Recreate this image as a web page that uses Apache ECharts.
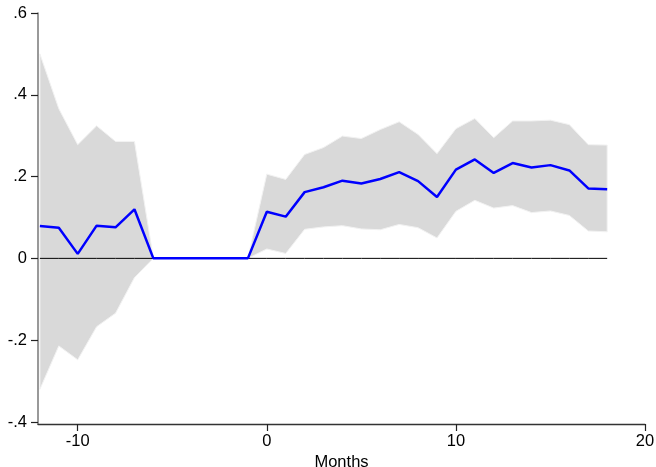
<!DOCTYPE html>
<html>
<head>
<meta charset="utf-8">
<script src="https://cdn.jsdelivr.net/npm/echarts@6/dist/echarts.min.js"></script>
<style>
  html, body { margin: 0; padding: 0; background: #fff; }
  #chart { width: 656px; height: 467px; }
</style>
</head>
<body>
<div id="chart"></div>
<script>
// Event-time months, -12 .. 18
const months = [-12,-11,-10,-9,-8,-7,-6,-5,-4,-3,-2,-1,0,1,2,3,4,5,6,7,8,9,10,11,12,13,14,15,16,17,18];

// Point estimates
const estimate = [0.079,0.075,0.011,0.080,0.076,0.120,0,0,0,0,0,0,
  0.114,0.102,0.162,0.174,0.190,0.183,0.194,0.211,0.189,0.150,0.217,0.242,0.209,0.233,0.222,0.228,0.215,0.171,0.169];

// Confidence interval bounds
const upperCI = [0.500,0.366,0.278,0.324,0.286,0.286,0,0,0,0,0,0,
  0.206,0.193,0.254,0.271,0.299,0.293,0.315,0.334,0.303,0.256,0.317,0.342,0.295,0.336,0.336,0.338,0.327,0.278,0.277];
const lowerCI = [-0.320,-0.214,-0.248,-0.167,-0.134,-0.047,0,0,0,0,0,0,
  0.023,0.012,0.071,0.077,0.080,0.072,0.070,0.083,0.075,0.050,0.115,0.142,0.123,0.129,0.112,0.116,0.105,0.067,0.065];

// Axis tick values
const xTicks = [-10, 0, 10, 20];
const yTicks = [-0.4, -0.2, 0, 0.2, 0.4, 0.6];

const pairs = arr => months.map((m, i) => [m, arr[i]]);
const bandData = months.map((m, i) => [m, lowerCI[i], upperCI[i]]);

const font = 'Liberation Sans, Arial, sans-serif';

// The confidence band is drawn as one closed polygon: upper bound left to right, then lower bound back
function renderBand(params, api) {
  if (params.dataIndex !== 0) return null;
  const top = [], bottom = [];
  for (let i = 0; i < bandData.length; i++) {
    top.push(api.coord([bandData[i][0], bandData[i][2]]));
    bottom.push(api.coord([bandData[i][0], bandData[i][1]]));
  }
  const points = top.concat(bottom.reverse());
  return {
    type: 'polygon',
    shape: { points: points },
    style: { fill: '#d9d9d9', stroke: '#f2f2f2', lineWidth: 1 }
  };
}

const chart = echarts.init(document.getElementById('chart'), null, { renderer: 'canvas' });
chart.setOption({
  animation: false,
  backgroundColor: '#ffffff',
  grid: { left: 38, right: 11, top: 13, bottom: 43, containLabel: false, outerBoundsMode: 'none' },
  xAxis: {
    type: 'value',
    min: -12.1,
    max: 20,
    name: 'Months',
    nameLocation: 'middle',
    nameGap: 30,
    nameMoveOverlap: false,
    nameTextStyle: { fontFamily: font, fontSize: 16.5, color: '#000' },
    splitLine: { show: false },
    axisLine: { show: true, onZero: false, lineStyle: { color: '#333', width: 1.3 } },
    axisTick: { show: true, length: 7, customValues: xTicks, lineStyle: { color: '#222', width: 1.2 } },
    axisLabel: { customValues: xTicks, fontFamily: font, fontSize: 16.5, color: '#000', margin: 9 }
  },
  yAxis: {
    type: 'value',
    min: -0.405,
    max: 0.6,
    splitLine: { show: false },
    axisLine: { show: true, onZero: false, lineStyle: { color: '#777', width: 1.5 } },
    axisTick: { show: true, length: 7, customValues: yTicks, lineStyle: { color: '#222', width: 1.2 } },
    axisLabel: {
      customValues: yTicks,
      fontFamily: font, fontSize: 16.5, color: '#000', margin: 11,
      formatter: v => {
        const r = Number(Number(v).toFixed(1));
        return r === 0 ? '0' : String(r).replace('0.', '.');
      }
    }
  },
  series: [
    {
      name: 'band',
      type: 'custom',
      data: bandData,
      encode: { x: 0, y: [1, 2] },
      renderItem: renderBand,
      clip: true,
      z: 1
    },
    {
      name: 'zero',
      type: 'line',
      data: months.map(m => [m, 0]),
      symbol: 'none',
      lineStyle: { color: '#000', width: 1 },
      z: 3
    },
    {
      name: 'estimate',
      type: 'line',
      data: pairs(estimate),
      symbol: 'none',
      lineStyle: { color: '#0000ff', width: 2.5 },
      z: 4
    }
  ]
});
</script>
</body>
</html>
